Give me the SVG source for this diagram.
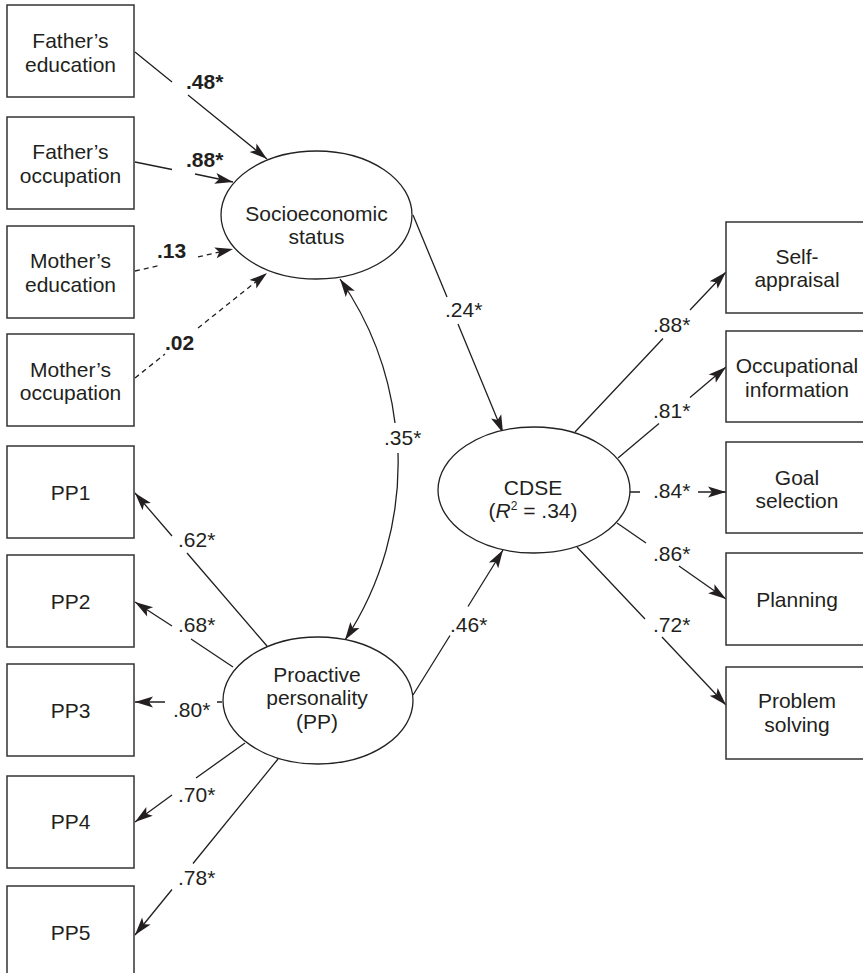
<svg xmlns="http://www.w3.org/2000/svg" width="863" height="973" viewBox="0 0 863 973">
<style>
  .box { fill: #fff; stroke: #333; stroke-width: 1.5; }
  .ell { fill: #fff; stroke: #222; stroke-width: 1.3; }
  .t { font-family: "Liberation Sans", Arial, sans-serif; font-size: 21px; fill: #231f20; text-anchor: middle; }
  .lab { font-family: "Liberation Sans", Arial, sans-serif; font-size: 21px; fill: #231f20; }
  .b { font-weight: bold; }
  .c { fill: none; stroke: #231f20; stroke-width: 1.3; marker-end: url(#ah); }
  .d { stroke-dasharray: 5 4; }
  .arc { marker-start: url(#ah); }
</style>
<defs>
  <marker id="ah" markerUnits="userSpaceOnUse" markerWidth="20" markerHeight="14" viewBox="-19 -7 20 14" refX="0" refY="0" orient="auto-start-reverse">
    <path d="M0,0 L-18,-5.5 L-14,0 L-18,5.5 Z" fill="#231f20"/>
  </marker>
</defs>
<rect width="863" height="973" fill="#fff"/>

<g id="connectors">
  <path class="c" d="M135,52 L172,82 M188,95 L267,159"/>
  <path class="c" d="M135,162 L172,169.5 M195,174 L233,182"/>
  <path class="c d" d="M135,271 L160,265.4 M198,256.9 L233,249"/>
  <path class="c d" d="M135,378 L165,354 M198,328 L267,273"/>
  <path class="c" d="M413,215 L447,297 M458,324 L503,433"/>
  <path class="c arc" d="M340,279 A321,321 0 0 1 395,423 M398,453 A321,321 0 0 1 345,640"/>
  <path class="c" d="M267,646 L187,553 M172,536 L135,493"/>
  <path class="c" d="M233,667 L191,639 M172,626 L135,602"/>
  <path class="c" d="M222,702 L217,702 M165,702 L135,702"/>
  <path class="c" d="M245,743 L196,778 M172,795 L135,822"/>
  <path class="c" d="M278,759 L193,863.5 M172,889.5 L135,935"/>
  <path class="c" d="M413,695 L450,635.5 M468,606.5 L503,550"/>
  <path class="c" d="M575,432 L663,338.5 M690,310 L726,272"/>
  <path class="c" d="M618,458 L659,423.5 M690,397.5 L726,367"/>
  <path class="c" d="M630,492 L640,492 M698,492 L726,492"/>
  <path class="c" d="M617,523 L646,543 M679,566 L726,599"/>
  <path class="c" d="M577,547 L645,619 M662,637 L726,705"/>
</g>

<g id="father-education"><rect class="box" x="7" y="5" width="127" height="92"/><text class="t" x="70.5" y="48">Father’s</text><text class="t" x="70.5" y="72">education</text></g>
<g id="father-occupation"><rect class="box" x="7" y="117" width="127" height="92"/><text class="t" x="70.5" y="159">Father’s</text><text class="t" x="70.5" y="183">occupation</text></g>
<g id="mother-education"><rect class="box" x="7" y="226" width="127" height="92"/><text class="t" x="70.5" y="268">Mother’s</text><text class="t" x="70.5" y="292">education</text></g>
<g id="mother-occupation"><rect class="box" x="7" y="334" width="127" height="92"/><text class="t" x="70.5" y="377">Mother’s</text><text class="t" x="70.5" y="400">occupation</text></g>
<g id="pp1"><rect class="box" x="7" y="446" width="127" height="92"/><text class="t" x="70.5" y="500">PP1</text></g>
<g id="pp2"><rect class="box" x="7" y="555" width="127" height="92"/><text class="t" x="70.5" y="609">PP2</text></g>
<g id="pp3"><rect class="box" x="7" y="664" width="127" height="92"/><text class="t" x="70.5" y="718">PP3</text></g>
<g id="pp4"><rect class="box" x="7" y="776" width="127" height="92"/><text class="t" x="70.5" y="829">PP4</text></g>
<g id="pp5"><rect class="box" x="7" y="886" width="127" height="100"/><text class="t" x="70.5" y="940">PP5</text></g>

<g id="ses"><ellipse class="ell" cx="316.5" cy="215" rx="95.5" ry="64"/><text class="t" x="316.5" y="221">Socioeconomic</text><text class="t" x="316.5" y="244">status</text></g>
<g id="pp"><ellipse class="ell" cx="318" cy="700.5" rx="95" ry="63.5"/><text class="t" x="317" y="682">Proactive</text><text class="t" x="317" y="705">personality</text><text class="t" x="317" y="729">(PP)</text></g>
<g id="cdse"><ellipse class="ell" cx="534" cy="490" rx="96" ry="63"/><text class="t" x="533" y="495">CDSE</text><text class="t" x="533" y="518">(<tspan font-style="italic">R</tspan><tspan font-size="12" dy="-8">2</tspan><tspan dy="8"> = .34)</tspan></text></g>

<g id="self-appraisal"><rect class="box" x="726" y="222" width="150" height="91"/><text class="t" x="797" y="264">Self-</text><text class="t" x="797" y="287">appraisal</text></g>
<g id="occupational-information"><rect class="box" x="726" y="331" width="150" height="91"/><text class="t" x="797" y="373">Occupational</text><text class="t" x="797" y="397">information</text></g>
<g id="goal-selection"><rect class="box" x="726" y="442" width="150" height="91"/><text class="t" x="797" y="485">Goal</text><text class="t" x="797" y="508">selection</text></g>
<g id="planning"><rect class="box" x="726" y="553" width="150" height="92"/><text class="t" x="797" y="607">Planning</text></g>
<g id="problem-solving"><rect class="box" x="726" y="667" width="150" height="92"/><text class="t" x="797" y="708">Problem</text><text class="t" x="797" y="732">solving</text></g>

<g id="labels">
  <text class="lab b" x="186" y="89">.48*</text>
  <text class="lab b" x="186" y="167">.88*</text>
  <text class="lab b" x="157" y="258">.13</text>
  <text class="lab b" x="165" y="350">.02</text>
  <text class="lab" x="445" y="317">.24*</text>
  <text class="lab" x="384" y="445">.35*</text>
  <text class="lab" x="178" y="547">.62*</text>
  <text class="lab" x="178" y="632">.68*</text>
  <text class="lab" x="173" y="717">.80*</text>
  <text class="lab" x="178" y="802">.70*</text>
  <text class="lab" x="178" y="885">.78*</text>
  <text class="lab" x="450" y="632">.46*</text>
  <text class="lab" x="653" y="332">.88*</text>
  <text class="lab" x="653" y="418">.81*</text>
  <text class="lab" x="653" y="498">.84*</text>
  <text class="lab" x="653" y="561">.86*</text>
  <text class="lab" x="653" y="632">.72*</text>
</g>
</svg>
